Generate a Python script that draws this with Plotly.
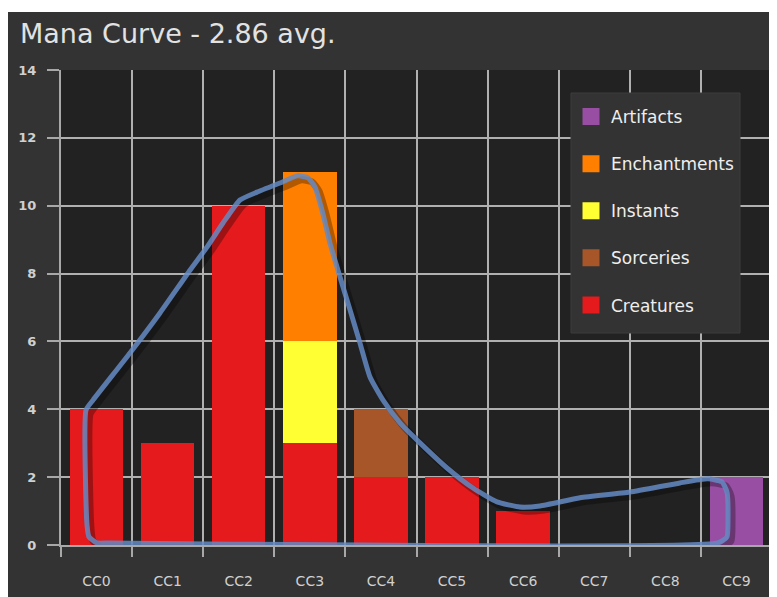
import plotly.graph_objects as go

categories = ["CC0", "CC1", "CC2", "CC3", "CC4", "CC5", "CC6", "CC7", "CC8", "CC9"]
creatures = [4, 3, 10, 3, 2, 2, 1, 0, 0, 0]
sorceries = [0, 0, 0, 0, 2, 0, 0, 0, 0, 0]
instants = [0, 0, 0, 3, 0, 0, 0, 0, 0, 0]
enchantments = [0, 0, 0, 5, 0, 0, 0, 0, 0, 0]
artifacts = [0, 0, 0, 0, 0, 0, 0, 0, 0, 2]

series_names = ["Creatures", "Sorceries", "Instants", "Enchantments", "Artifacts"]
series_values = [creatures, sorceries, instants, enchantments, artifacts]
series_colors = ["#e41a1c", "#a65628", "#ffff33", "#ff7f00", "#984ea3"]
legend_ranks = [5, 4, 3, 2, 1]

# hand-drawn outline (category-index units, value units)
outline_x = [-0.148, -0.050, 0.470, 0.892, 1.314, 1.553, 1.778, 2.018, 2.257, 2.580,
             2.833, 2.974, 3.072, 3.171, 3.283, 3.424, 3.565, 3.705, 3.846, 4.029,
             4.268, 4.549, 4.929, 5.295, 5.632, 5.956, 6.237, 6.800, 7.503, 8.206,
             8.600, 8.797, 8.867, 8.881, 8.867, 8.741, 0.189, 0.006, -0.106, -0.134, -0.148]
outline_y = [3.98, 4.27, 5.66, 6.84, 8.10, 8.78, 9.49, 10.17, 10.40, 10.67,
             10.88, 10.82, 10.55, 9.87, 8.90, 7.90, 6.93, 5.95, 4.95, 4.27,
             3.60, 3.01, 2.27, 1.68, 1.27, 1.12, 1.15, 1.39, 1.56, 1.83,
             1.95, 1.86, 1.56, 0.74, 0.24, 0.06, 0.06, 0.06, 0.24, 0.59, 3.98]

title_text = "Mana Curve - 2.86 avg."

# page shows the figure offset by the 8px body margin
W, H = 769, 589
ML, MR, MT, MB = 53, 5, 62, 52
PW, PH = W - ML - MR, H - MT - MB


def px_x(fx):
    return (fx - ML) / PW


def px_y(fy):
    return (MT + PH - fy) / PH


fig = go.Figure()

for name, vals, col in zip(series_names, series_values, series_colors):
    fig.add_trace(go.Bar(x=categories, y=vals, name=name, marker=dict(color=col, line=dict(width=0)),
                         showlegend=False, hoverinfo="skip"))

# legend entries
for name, col, rk in zip(series_names, series_colors, legend_ranks):
    fig.add_trace(go.Bar(x=[None], y=[None], name=name, legendgroup=name, legendrank=rk,
                         marker=dict(color=col, line=dict(color=col, width=5)),
                         showlegend=True))

# outline shadow + outline
dx, dy = 4 / (PW / 10), -4 / (PH / 14)
fig.add_trace(go.Scatter(x=[v + dx for v in outline_x], y=[v + dy for v in outline_y],
                         xaxis="x2", yaxis="y", mode="lines",
                         line=dict(color="rgba(0,0,0,0.3)", width=7, shape="spline", smoothing=0.5),
                         showlegend=False, hoverinfo="skip"))
fig.add_trace(go.Scatter(x=outline_x, y=outline_y, xaxis="x2", yaxis="y", mode="lines",
                         line=dict(color="rgba(100,138,195,0.85)", width=5, shape="spline", smoothing=0.5),
                         showlegend=False, hoverinfo="skip"))

axis_col = "#a8a8a8"
fig.update_layout(
    width=W, height=H,
    margin=dict(l=ML, r=MR, t=MT, b=MB),
    paper_bgcolor="#333333",
    plot_bgcolor="#222222",
    barmode="stack",
    bargap=0.25,
    title=dict(text=title_text, x=12 / W, xanchor="left", xref="container",
               y=1 - 26 / H, yanchor="middle", yref="container",
               font=dict(family="DejaVu Sans", size=27, color="#e2e2e2")),
    xaxis=dict(type="category", tickson="boundaries", showgrid=True, gridcolor="#b0b0b0", gridwidth=1.5,
               showline=True, linecolor=axis_col, linewidth=2, ticks="outside", ticklen=10,
               tickcolor=axis_col, tickwidth=1.5, ticklabelstandoff=22,
               tickfont=dict(family="DejaVu Sans", size=14, color="#d0d0d0"),
               range=[-0.5, 9.5], zeroline=False),
    xaxis2=dict(overlaying="x", range=[-0.5, 9.5], visible=False),
    yaxis=dict(range=[0, 14], dtick=2, showgrid=True, gridcolor="#b0b0b0", gridwidth=1.5,
               showline=True, linecolor=axis_col, linewidth=2, ticks="outside", ticklen=12,
               tickcolor=axis_col, tickwidth=1.5, ticklabelstandoff=8, zeroline=False,
               tickfont=dict(family="DejaVu Sans", size=13, color="#d0d0d0", weight="bold")),
    legend=dict(x=px_x(563), y=px_y(91), xanchor="left", yanchor="top",
                bgcolor="rgba(0,0,0,0)", borderwidth=0,
                traceorder="grouped", tracegroupgap=22,
                font=dict(family="DejaVu Sans", size=17, color="#eeeeee")),
    shapes=[
        dict(type="rect", xref="paper", yref="paper", x0=-ML / PW, x1=1 + MR / PW,
             y0=1 + (MT - 4) / PH, y1=1 + MT / PH, fillcolor="white", line=dict(width=0), layer="above"),
        dict(type="rect", xref="paper", yref="paper", x0=px_x(563), x1=px_x(732),
             y0=px_y(325), y1=px_y(85), fillcolor="#333333",
             line=dict(color="#3d3d3d", width=1), layer="above"),
    ],
)

fig.write_html("out.html")
